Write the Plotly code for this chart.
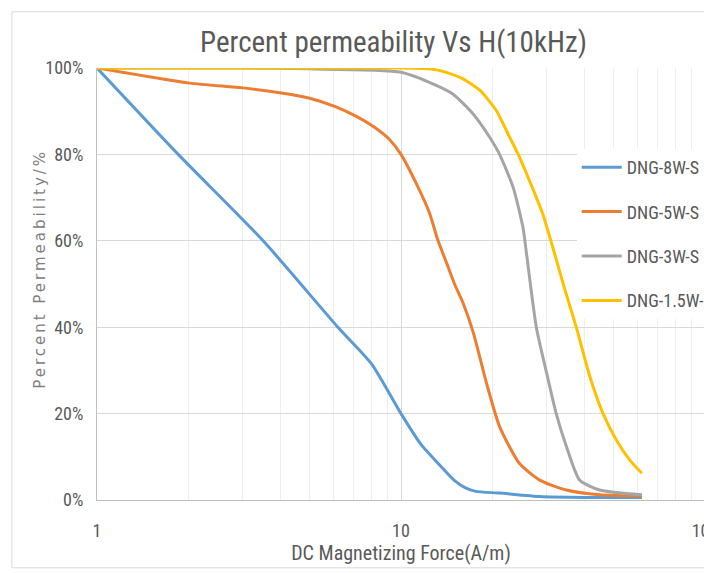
import plotly.graph_objects as go

series_names = ["DNG-8W-S", "DNG-5W-S", "DNG-3W-S", "DNG-1.5W-S"]
series_colors = ["#5B9BD5", "#ED7D31", "#A5A5A5", "#FFC000"]

blue_x = [1, 1.85, 3.52, 6.2, 8.0, 10, 11.6, 13.4, 15, 16.3, 17.6, 21.1, 28.6, 40, 62]
blue_y = [100, 80, 60, 40, 31.5, 20, 13, 8.1, 4.5, 2.8, 2.0, 1.6, 0.8, 0.6, 0.6]

orange_x = [1, 2.02, 3.02, 4.04, 5.01, 6.05, 7.13, 8.09, 9.18, 10, 11.2, 12.4, 13.2,
            14.1, 15.0, 16.0, 17.3, 19.1, 21.1, 24.5, 28.6, 35, 45, 62]
orange_y = [100, 96.5, 95.4, 94.2, 93.0, 91.1, 88.8, 86.5, 83.4, 80, 73.4, 66.5, 60.3,
            55, 50, 45.6, 38.7, 27.1, 17, 8.5, 4.6, 2.3, 1.2, 0.9]

gray_x = [1, 3, 5, 8, 10, 12.4, 14.8, 17.3, 19.6, 21.1, 23.4, 25.2, 25.9, 27.9, 30.5,
          32.4, 35, 38.7, 45, 62]
gray_y = [100, 100, 99.8, 99.5, 99, 96.7, 94, 89.3, 83.9, 80, 72.3, 63, 56.8, 39.8, 27.8,
          20, 12.4, 4.6, 2.3, 1.2]

yellow_x = [1, 5, 10, 12.4, 14.1, 16.0, 18.2, 20.6, 22.8, 24.3, 26.5, 29.3, 31.6, 34.5,
            37.8, 41.8, 46.2, 51.1, 56.5, 62]
yellow_y = [100, 100, 100, 99.8, 99, 97.5, 94.8, 90.1, 83.9, 80, 73.8, 66.1, 58.4, 49,
            39.8, 28.6, 20, 13.9, 9.3, 6.2]

x_data = [blue_x, orange_x, gray_x, yellow_x]
y_data = [blue_y, orange_y, gray_y, yellow_y]

title_text = "Percent permeability Vs H(10kHz)"
x_title = "DC Magnetizing Force(A/m)"
y_title = "Percent Permeability/%"
y_ticks = [0, 20, 40, 60, 80, 100]
y_tick_labels = ["0%", "20%", "40%", "60%", "80%", "100%"]
x_ticks = [1, 10, 100]
x_tick_labels = ["1", "10", "100"]

narrow = "Liberation Sans Narrow, Roboto Condensed, Liberation Sans, sans-serif"

fig = go.Figure()
for i, name in enumerate(series_names):
    fig.add_trace(go.Scatter(
        x=x_data[i], y=y_data[i], name=name, mode="lines",
        line=dict(color=series_colors[i], width=3, shape="spline", smoothing=0.6),
        legendgroup=name,
    ))

fig.update_layout(
    width=704, height=565,
    margin=dict(l=89, r=7, t=60, b=73, autoexpand=False),
    paper_bgcolor="white", plot_bgcolor="white",
    title=dict(text=title_text, x=0.5476, xanchor="center", y=0.94, yanchor="middle",
               font=dict(family=narrow, size=29, color="#595959")),
    legend=dict(x=0.789, y=0.8125, xanchor="left", yanchor="top", bgcolor="white",
                font=dict(family=narrow, size=18, color="#595959"),
                tracegroupgap=18, itemwidth=40),
    showlegend=True,
    shapes=[dict(type="rect", xref="paper", yref="paper",
                 x0=-0.14, x1=1.2, y0=-0.157, y1=1.13,
                 line=dict(color="#d9d9d9", width=1), layer="below")],
    annotations=[dict(
        text='<span style="letter-spacing:3px">' + y_title + '</span>',
        xref="paper", yref="paper", x=-0.0938, y=0.535, textangle=-90,
        xanchor="center", yanchor="middle", showarrow=False,
        font=dict(family="DejaVu Sans, sans-serif", size=15, color="#808080"),
    )],
)

fig.update_xaxes(
    type="log", range=[0, 2], tickvals=x_ticks, ticktext=x_tick_labels,
    showgrid=True, gridcolor="#d9d9d9", gridwidth=1,
    minor=dict(dtick="D1", showgrid=True, gridcolor="#eeeeee", gridwidth=1),
    showline=True, linecolor="#bfbfbf", linewidth=1,
    ticks="", ticklabelstandoff=14, automargin=False, ticklabeloverflow="allow",
    tickfont=dict(family=narrow, size=18, color="#595959"),
    title=dict(text=x_title, font=dict(family=narrow, size=20, color="#595959"), standoff=0),
    zeroline=False,
)
fig.update_yaxes(
    range=[0, 100], tickvals=y_ticks, ticktext=y_tick_labels,
    showgrid=True, gridcolor="#d9d9d9", gridwidth=1,
    showline=True, linecolor="#bfbfbf", linewidth=1,
    ticks="", ticklabelstandoff=9, automargin=False,
    tickfont=dict(family=narrow, size=18, color="#595959"),
    zeroline=False,
)

fig.write_html("out.html")
